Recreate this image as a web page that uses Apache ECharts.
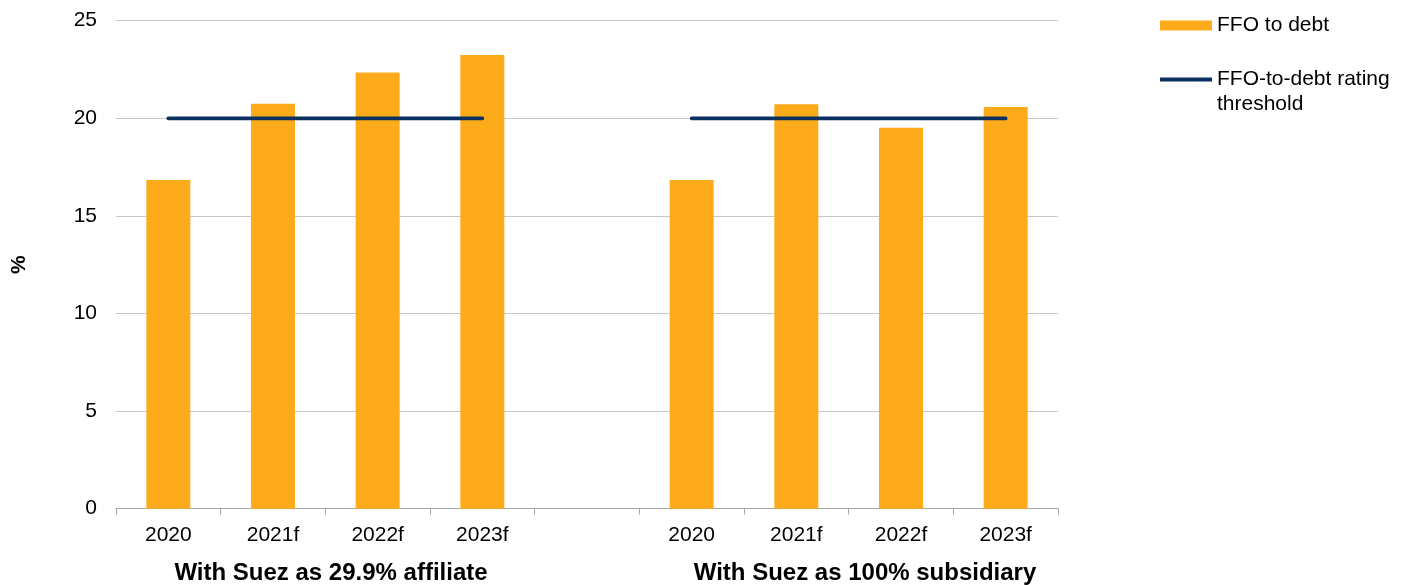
<!DOCTYPE html>
<html>
<head>
<meta charset="utf-8">
<script src="https://cdn.jsdelivr.net/npm/echarts@6/dist/echarts.min.js"></script>
<style>
  html, body { margin: 0; padding: 0; background: #ffffff; }
  #chart { width: 1408px; height: 585px; }
</style>
</head>
<body>
<div id="chart"></div>
<script>
// Categories: two scenarios of four years each, with an empty spacer slot between them
var categories = ['2020', '2021f', '2022f', '2023f', '', '2020', '2021f', '2022f', '2023f'];
// FFO to debt (%)
var ffoToDebt = [16.84, 20.75, 22.34, 23.24, null, 16.84, 20.72, 19.52, 20.58];
// Rating threshold (%)
var threshold = [20, 20, 20, 20, null, 20, 20, 20, 20];
// Y axis tick range
var yMin = 0, yMax = 25, yStep = 5;
// Scenario titles under the axis
var groupTitles = ['With Suez as 29.9% affiliate', 'With Suez as 100% subsidiary'];

var FONT = '"Liberation Sans", Arial, sans-serif';
var ORANGE = '#FDAB1B';
var NAVY = '#0B2F5E';

var chart = echarts.init(document.getElementById('chart'), null, { renderer: 'canvas' });

chart.setOption({
  animation: false,
  backgroundColor: '#ffffff',
  textStyle: { fontFamily: FONT },
  grid: {
    left: 116, right: 350, top: 20.7, bottom: 76.3,
    containLabel: false,
    outerBoundsMode: 'none'
  },
  legend: [
    {
      data: [{ name: 'FFO to debt', icon: 'rect' }],
      orient: 'vertical',
      left: 1160,
      top: 15,
      padding: 0,
      itemWidth: 52,
      itemHeight: 10,
      selectedMode: false,
      textStyle: { fontFamily: FONT, fontSize: 21, color: '#000000' }
    },
    {
      data: [{ name: 'FFO-to-debt rating threshold', icon: 'rect' }],
      orient: 'vertical',
      left: 1160,
      top: 42,
      padding: 0,
      itemWidth: 52,
      itemHeight: 4,
      selectedMode: false,
      // leading blank line keeps the swatch level with the first text line
      formatter: function () { return '\nFFO-to-debt rating\nthreshold'; },
      textStyle: { fontFamily: FONT, fontSize: 21, color: '#000000', lineHeight: 25 }
    }
  ],
  xAxis: {
    type: 'category',
    data: categories,
    boundaryGap: true,
    axisLine: { show: true, lineStyle: { color: '#a6a6a6', width: 1 } },
    axisTick: { show: true, interval: 0, length: 6, lineStyle: { color: '#a6a6a6' } },
    axisLabel: { interval: 0, fontFamily: FONT, fontSize: 21, color: '#000000', margin: 16 }
  },
  yAxis: {
    type: 'value',
    min: yMin,
    max: yMax,
    interval: yStep,
    name: '%',
    nameLocation: 'middle',
    nameRotate: 90,
    nameGap: 86,
    nameTextStyle: { fontFamily: FONT, fontSize: 21, fontWeight: 'bold', color: '#000000' },
    axisLine: { show: false },
    axisTick: { show: false },
    axisLabel: { fontFamily: FONT, fontSize: 21, color: '#000000', margin: 19 },
    splitLine: { show: true, lineStyle: { color: '#c8c8c8', width: 1 } }
  },
  series: [
    {
      name: 'FFO to debt',
      type: 'bar',
      data: ffoToDebt,
      barWidth: 44,
      itemStyle: { color: ORANGE },
      z: 2
    },
    {
      name: 'FFO-to-debt rating threshold',
      type: 'line',
      data: threshold,
      connectNulls: false,
      symbol: 'none',
      showSymbol: false,
      color: NAVY,
      lineStyle: { color: NAVY, width: 3.8, cap: 'round' },
      z: 3
    }
  ],
  graphic: [
    {
      type: 'text',
      x: 331, y: 573,
      style: {
        text: groupTitles[0], fontFamily: FONT, fontSize: 24, fontWeight: 'bold',
        fill: '#000000', textAlign: 'center', textVerticalAlign: 'middle'
      }
    },
    {
      type: 'text',
      x: 865, y: 573,
      style: {
        text: groupTitles[1], fontFamily: FONT, fontSize: 24, fontWeight: 'bold',
        fill: '#000000', textAlign: 'center', textVerticalAlign: 'middle'
      }
    }
  ]
});
</script>
</body>
</html>
